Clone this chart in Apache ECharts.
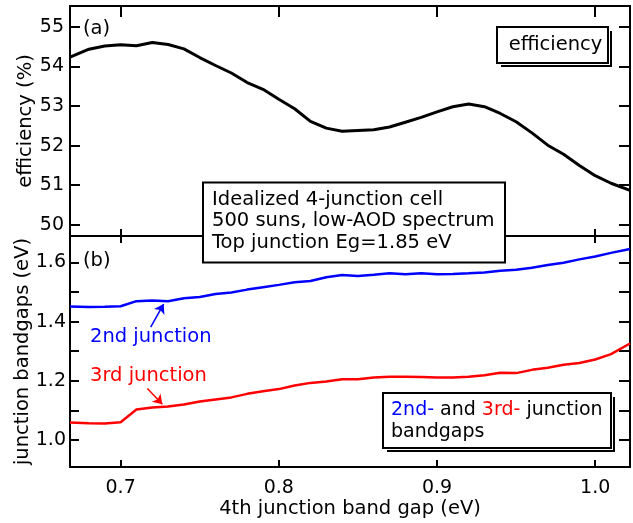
<!DOCTYPE html>
<html>
<head>
<meta charset="utf-8">
<title>4-junction cell</title>
<script src="https://cdn.jsdelivr.net/npm/echarts@6/dist/echarts.min.js"></script>
<style>
  html, body { margin: 0; padding: 0; background: #fff; }
  #chart { width: 633px; height: 523px; }
</style>
</head>
<body>
<div id="chart"></div>
<script>
// 4th junction band gap (eV)
const gapX = [0.668, 0.68, 0.69, 0.70, 0.71, 0.72, 0.73, 0.74, 0.75, 0.76, 0.77, 0.78,
  0.79, 0.80, 0.81, 0.82, 0.83, 0.84, 0.85, 0.86, 0.87, 0.88, 0.89, 0.90,
  0.91, 0.92, 0.93, 0.94, 0.95, 0.96, 0.97, 0.98, 0.99, 1.00, 1.01, 1.022]
// (a) efficiency (%)
const efficiency = [54.23, 54.43, 54.51, 54.54, 54.52, 54.60, 54.55, 54.44, 54.22, 54.02, 53.83, 53.59,
  53.42, 53.17, 52.93, 52.61, 52.44, 52.36, 52.38, 52.40, 52.47, 52.59, 52.71, 52.85,
  52.98, 53.05, 52.98, 52.81, 52.60, 52.32, 52.01, 51.78, 51.50, 51.24, 51.05, 50.87]
// (b) 2nd junction bandgap (eV)
const junction2 = [1.451, 1.449, 1.450, 1.452, 1.469, 1.471, 1.469, 1.479, 1.483, 1.493, 1.498, 1.508,
  1.516, 1.524, 1.533, 1.537, 1.550, 1.557, 1.554, 1.558, 1.563, 1.560, 1.563, 1.560,
  1.561, 1.563, 1.566, 1.572, 1.575, 1.582, 1.591, 1.599, 1.610, 1.620, 1.632, 1.645]
// (b) 3rd junction bandgap (eV)
const junction3 = [1.059, 1.057, 1.056, 1.060, 1.103, 1.110, 1.113, 1.120, 1.130, 1.137, 1.144, 1.156,
  1.165, 1.172, 1.184, 1.193, 1.198, 1.205, 1.205, 1.211, 1.214, 1.214, 1.213, 1.211,
  1.211, 1.214, 1.219, 1.227, 1.226, 1.237, 1.244, 1.254, 1.260, 1.272, 1.290, 1.326]

const xTickLabels = ['0.7', '0.8', '0.9', '1.0']
const effTickLabels = ['50', '51', '52', '53', '54', '55']
const gapTickLabels = ['1.0', '1.2', '1.4', '1.6']

// arrows pointing from the labels to the curves
const arrow2 = [[0.719, 1.381], [0.7272, 1.459]]
const arrow3 = [[0.7169, 1.174], [0.7264, 1.121]]

const FONT = 'DejaVu Sans'
const TXT = '19.5px "DejaVu Sans"'
const xRange = { min: 0.668, max: 1.022 }
const effRange = { min: 49.72, max: 55.52 }
const gapRange = { min: 0.909, max: 1.689 }

function pickLabel (list, digits) {
  return function (v) {
    const s = v.toFixed(digits)
    return (list.indexOf(s) >= 0 && Math.abs(v - parseFloat(s)) < 1e-6) ? s : ''
  }
}

function frameAxis (grid, pos, range, tickLen, extra) {
  return Object.assign({
    type: 'value',
    gridIndex: grid,
    position: pos,
    min: range.min,
    max: range.max,
    axisLine: { show: true, onZero: false, lineStyle: { color: '#000', width: 2 } },
    axisTick: { show: true, inside: true, length: tickLen, lineStyle: { color: '#000', width: 2 } },
    axisLabel: { show: false },
    splitLine: { show: false }
  }, extra || {})
}

const labelStyle = { show: true, color: '#000', fontFamily: FONT, fontSize: 19 }
const nameStyle = { color: '#000', fontFamily: FONT, fontSize: 19.5 }

const chart = echarts.init(document.getElementById('chart'))
chart.setOption({
  animation: false,
  backgroundColor: '#fff',
  grid: [
    { left: 70, top: 6, width: 560, height: 230, outerBoundsMode: 'none' },
    { left: 70, top: 236, width: 560, height: 231, outerBoundsMode: 'none' }
  ],
  xAxis: [
    frameAxis(0, 'bottom', xRange, 7, { splitNumber: 4 }),
    frameAxis(0, 'top', xRange, 11, { splitNumber: 4 }),
    frameAxis(1, 'bottom', xRange, 7, {
      splitNumber: 4,
      axisLabel: Object.assign({}, labelStyle, { margin: 12, formatter: pickLabel(xTickLabels, 1) }),
      name: '4th junction band gap (eV)',
      nameLocation: 'middle',
      nameGap: 32,
      nameMoveOverlap: false,
      nameTextStyle: nameStyle
    }),
    frameAxis(1, 'top', xRange, 7, { splitNumber: 4 })
  ],
  yAxis: [
    frameAxis(0, 'left', effRange, 10, {
      splitNumber: 5,
      axisLabel: Object.assign({}, labelStyle, { margin: 6, formatter: pickLabel(effTickLabels, 0) }),
      name: 'efficiency (%)',
      nameLocation: 'middle',
      nameGap: 34,
      nameMoveOverlap: false,
      nameTextStyle: nameStyle
    }),
    frameAxis(0, 'right', effRange, 11, { splitNumber: 5 }),
    frameAxis(1, 'left', gapRange, 9, {
      splitNumber: 8,
      axisLabel: Object.assign({}, labelStyle, { margin: 4, formatter: pickLabel(gapTickLabels, 1) }),
      name: 'junction bandgaps (eV)',
      nameLocation: 'middle',
      nameGap: 37,
      nameMoveOverlap: false,
      nameTextStyle: nameStyle
    }),
    frameAxis(1, 'right', gapRange, 11, { splitNumber: 8 })
  ],
  series: [
    {
      name: 'efficiency',
      type: 'line',
      xAxisIndex: 0,
      yAxisIndex: 0,
      data: gapX.map((x, i) => [x, efficiency[i]]),
      showSymbol: false,
      lineStyle: { color: '#000', width: 3 },
      z: 3
    },
    {
      name: '2nd junction',
      type: 'line',
      xAxisIndex: 2,
      yAxisIndex: 2,
      data: gapX.map((x, i) => [x, junction2[i]]),
      showSymbol: false,
      lineStyle: { color: '#0000ff', width: 2.5 },
      markLine: {
        silent: true,
        symbol: ['none', 'arrow'],
        symbolSize: 9,
        label: { show: false },
        lineStyle: { color: '#0000ff', width: 1.5, type: 'solid' },
        data: [[{ coord: arrow2[0] }, { coord: arrow2[1] }]]
      }
    },
    {
      name: '3rd junction',
      type: 'line',
      xAxisIndex: 2,
      yAxisIndex: 2,
      data: gapX.map((x, i) => [x, junction3[i]]),
      showSymbol: false,
      lineStyle: { color: '#ff0000', width: 2.5 },
      markLine: {
        silent: true,
        symbol: ['none', 'arrow'],
        symbolSize: 9,
        label: { show: false },
        lineStyle: { color: '#ff0000', width: 1.5, type: 'solid' },
        data: [[{ coord: arrow3[0] }, { coord: arrow3[1] }]]
      }
    }
  ],
  graphic: [
    // panel tags
    { type: 'text', z: 100, style: { text: '(a)', x: 83, y: 29, verticalAlign: 'middle', fill: '#000', font: TXT } },
    { type: 'text', z: 100, style: { text: '(b)', x: 83, y: 261, verticalAlign: 'middle', fill: '#000', font: TXT } },
    // efficiency legend box with shadow
    { type: 'rect', z: 100, shape: { x: 501, y: 31, width: 111, height: 36 }, style: { fill: '#000' } },
    { type: 'rect', z: 101, shape: { x: 497, y: 27, width: 113, height: 38 }, style: { fill: '#fff' } },
    { type: 'rect', z: 102, shape: { x: 497, y: 27, width: 111, height: 36 }, style: { fill: '#fff', stroke: '#000', lineWidth: 2 } },
    { type: 'text', z: 103, style: { text: 'efficiency', x: 555.5, y: 45, align: 'center', verticalAlign: 'middle', fill: '#000', font: TXT } },
    // info box
    { type: 'rect', z: 100, shape: { x: 203, y: 182.5, width: 302, height: 80 }, style: { fill: '#fff', stroke: '#000', lineWidth: 2 } },
    {
      type: 'text',
      z: 101,
      style: {
        text: 'Idealized 4-junction cell\n500 suns, low-AOD spectrum\nTop junction Eg=1.85 eV',
        x: 212,
        y: 189,
        verticalAlign: 'top',
        lineHeight: 21.5,
        fill: '#000',
        font: TXT
      }
    },
    // curve labels
    { type: 'text', z: 100, style: { text: '2nd junction', x: 90, y: 337, verticalAlign: 'middle', fill: '#0000ff', font: TXT } },
    { type: 'text', z: 100, style: { text: '3rd junction', x: 90, y: 376, verticalAlign: 'middle', fill: '#ff0000', font: TXT } },
    // bandgap legend box with shadow
    { type: 'rect', z: 100, shape: { x: 387, y: 397, width: 228, height: 55 }, style: { fill: '#000' } },
    { type: 'rect', z: 101, shape: { x: 383, y: 393, width: 230, height: 57 }, style: { fill: '#fff' } },
    { type: 'rect', z: 102, shape: { x: 383, y: 393, width: 228, height: 55 }, style: { fill: '#fff', stroke: '#000', lineWidth: 2 } },
    {
      type: 'text',
      z: 103,
      style: {
        text: '{b|2nd-} and {r|3rd-} junction',
        x: 391,
        y: 410,
        verticalAlign: 'middle',
        fill: '#000',
        font: '19px "DejaVu Sans"',
        rich: {
          b: { fill: '#0000ff', font: '19px "DejaVu Sans"' },
          r: { fill: '#ff0000', font: '19px "DejaVu Sans"' }
        }
      }
    },
    { type: 'text', z: 103, style: { text: 'bandgaps', x: 391, y: 432, verticalAlign: 'middle', fill: '#000', font: '19px "DejaVu Sans"' } }
  ]
})
</script>
</body>
</html>
